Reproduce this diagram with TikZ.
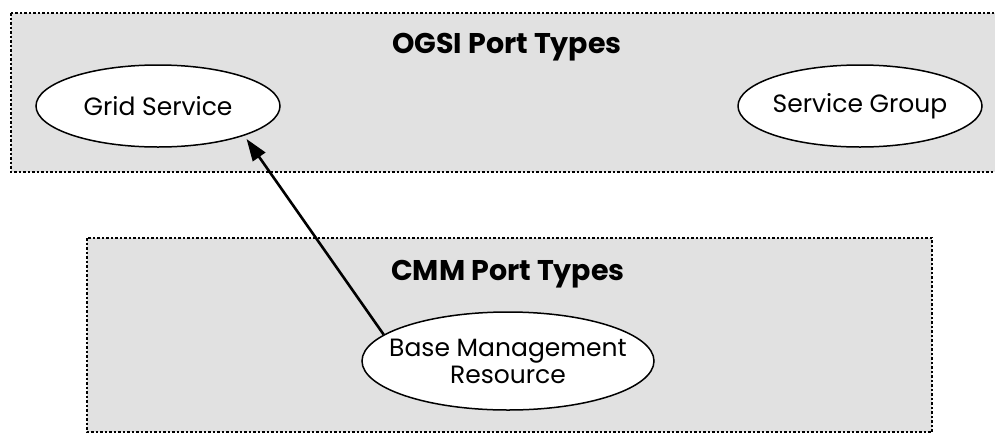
\documentclass[tikz,border=0pt]{standalone}
\usepackage{fontspec}
\setmainfont{Poppins}
\usetikzlibrary{arrows.meta,shapes.geometric}
\definecolor{panelgray}{HTML}{E1E1E1}
\tikzset{
  panel/.style={fill=panelgray, draw=black, line width=2.6pt,
    dash pattern=on 2.5pt off 2pt},
  porttype/.style={ellipse, draw=black, fill=white, line width=1.5pt,
    inner xsep=-30pt, inner ysep=-12pt,
    font=\fontsize{25}{27}\selectfont, align=center},
  paneltitle/.style={font=\fontsize{28.5}{32}\selectfont\bfseries},
  depends/.style={-{Triangle[length=22pt,width=15pt]}, line width=2.6pt}
}
\begin{document}
\begin{tikzpicture}[x=1pt,y=-1pt]
  \useasboundingbox (0,0) rectangle (995,434);
  % package boxes
  \path[panel] (11,13) rectangle (1005,172);
  \path[panel] (87,238) rectangle (932,432);
  \node[paneltitle] (ogsi) at (507,47) {OGSI Port Types};
  \node[paneltitle] (cmm) at (508,274) {CMM Port Types};
  % port types
  \node[porttype, minimum width=244pt, minimum height=82pt] (grid) at (158,106) {Grid Service};
  \node[porttype, minimum width=244pt, minimum height=82pt] (group) at (860,106) {Service Group};
  \node[porttype, minimum width=292pt, minimum height=98pt] (base) at (508,361) {Base Management\\Resource};
  % inheritance
  \draw[depends, shorten >=4pt] (base.168) -- (grid.-19);
\end{tikzpicture}
\end{document}
